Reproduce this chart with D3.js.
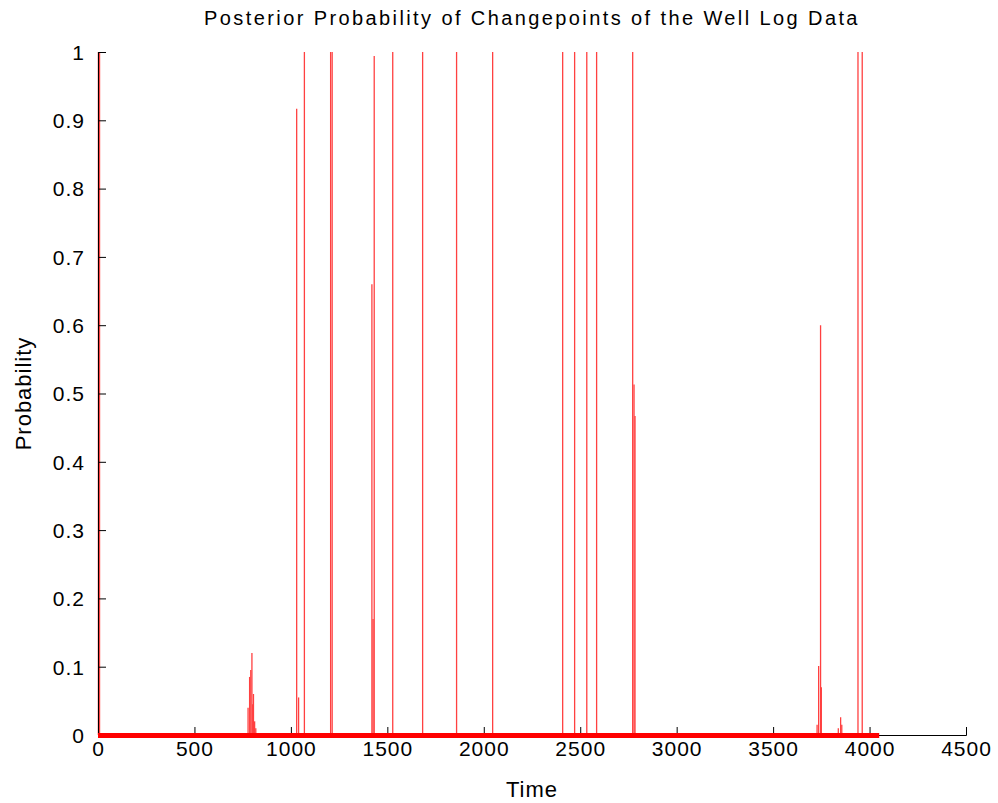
<!DOCTYPE html>
<html>
<head>
<meta charset="utf-8">
<script src="https://cdn.jsdelivr.net/npm/d3@7"></script>
<style>
  body { margin: 0; background: #fff; }
  text { font-family: "Liberation Sans", Arial, sans-serif; fill: #000; }
</style>
</head>
<body>
<div id="chart" style="width:998px;height:803px"></div>
<script>
// time index of each changepoint spike and its posterior probability
const spikeTimes = [2, 8, 778, 786, 792, 798, 802, 806, 812, 818, 1030, 1040, 1070, 1206, 1214,
  1420, 1426, 1432, 1528, 1683, 1859, 2046, 2409, 2471, 2534, 2585, 2772, 2779, 2784,
  3728, 3736, 3746, 3750, 3838, 3850, 3856, 3940, 3962];
const spikeProbs = [1, 1, 0.04, 0.085, 0.095, 0.12, 0.045, 0.06, 0.02, 0.01, 0.917, 0.055, 1, 1, 1,
  0.66, 0.17, 0.994, 1, 1, 1, 1, 1, 1, 1, 1, 1, 0.513, 0.467,
  0.015, 0.101, 0.6, 0.07, 0.01, 0.026, 0.015, 1, 1];
const seriesStart = 0;
const seriesEnd = 4050;
const xTicks = [0, 500, 1000, 1500, 2000, 2500, 3000, 3500, 4000, 4500];
const yTicks = [0, 0.1, 0.2, 0.3, 0.4, 0.5, 0.6, 0.7, 0.8, 0.9, 1];

const width = 998, height = 803;
const margin = { top: 52, right: 32, bottom: 68, left: 98 };

const svg = d3.select('#chart')
  .append('svg')
  .attr('width', width)
  .attr('height', height);

const x = d3.scaleLinear().domain([0, 4500]).range([margin.left, width - margin.right]);
const y = d3.scaleLinear().domain([0, 1]).range([height - margin.bottom, margin.top]);

const spikes = spikeTimes.map((t, i) => ({ t: t, p: spikeProbs[i] }));

// spikes
svg.append('g')
  .selectAll('line')
  .data(spikes)
  .join('line')
  .attr('x1', d => x(d.t))
  .attr('x2', d => x(d.t))
  .attr('y1', y(0))
  .attr('y2', d => y(d.p))
  .attr('stroke', '#ff4040')
  .attr('stroke-width', 1.3);

// axes (ticks inward)
const xAxis = svg.append('g')
  .attr('transform', `translate(0,${y(0)})`)
  .call(d3.axisBottom(x).tickValues(xTicks).tickSize(-8).tickPadding(5).tickFormat(d3.format('d')));
const yAxis = svg.append('g')
  .attr('transform', `translate(${x(0)},0)`)
  .call(d3.axisLeft(y).tickValues(yTicks).tickSize(-8).tickPadding(13).tickFormat(d => d === 0 || d === 1 ? d : d3.format('.1f')(d)));

[xAxis, yAxis].forEach(a => {
  a.select('.domain').attr('stroke', '#000').attr('stroke-width', 1);
  a.selectAll('.tick line').attr('stroke', '#000');
  a.selectAll('.tick text')
    .style('font-size', '21px')
    .style('letter-spacing', '1px')
    .attr('fill', '#000');
});
yAxis.selectAll('.tick text').attr('dy', '0.35em');
xAxis.selectAll('.tick text').attr('dy', '0.75em');

// thick near-zero baseline of the probability series
svg.append('line')
  .attr('x1', x(seriesStart))
  .attr('x2', x(seriesEnd))
  .attr('y1', y(0) + 0.5)
  .attr('y2', y(0) + 0.5)
  .attr('stroke', 'red')
  .attr('stroke-width', 5);

// title and labels
svg.append('text')
  .attr('x', (x(0) + x(4500)) / 2)
  .attr('y', 25)
  .attr('text-anchor', 'middle')
  .style('font-size', '20px')
  .style('letter-spacing', '2.4px')
  .text('Posterior Probability of Changepoints of the Well Log Data');

svg.append('text')
  .attr('x', (x(0) + x(4500)) / 2)
  .attr('y', 797)
  .attr('text-anchor', 'middle')
  .style('font-size', '22px')
  .style('letter-spacing', '1px')
  .text('Time');

svg.append('text')
  .attr('transform', `translate(31,${(y(0) + y(1)) / 2}) rotate(-90)`)
  .attr('text-anchor', 'middle')
  .style('font-size', '22px')
  .style('letter-spacing', '1px')
  .text('Probability');
</script>
</body>
</html>
